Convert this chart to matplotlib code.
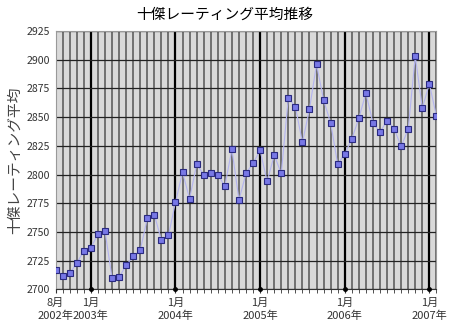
import matplotlib
matplotlib.use('Agg')
import matplotlib.pyplot as plt
import numpy as np

plt.rcParams['font.family'] = ['Noto Sans CJK JP', 'DejaVu Sans']

# 月次平均 (2002年8月 - 2007年2月)
start_year = 2002
start_month = 8
ratings = [
    2717, 2711.5, 2714, 2723, 2733.5, 2736.5, 2748, 2751, 2710, 2710.6,
    2721, 2729, 2734, 2762, 2765, 2743, 2747, 2776, 2802, 2779,
    2809, 2800, 2801, 2800, 2790, 2822, 2778, 2801, 2810, 2821,
    2794, 2817, 2801, 2867, 2859, 2828, 2857, 2896, 2865, 2845,
    2809, 2818, 2831, 2849, 2871, 2845, 2837, 2847, 2840, 2824.5,
    2839.5, 2903, 2858, 2879, 2851,
]
y_ticks = [2700, 2725, 2750, 2775, 2800, 2825, 2850, 2875, 2900, 2925]

title = '十傑レーティング平均推移'
y_label = '十傑レーティング平均'

n = len(ratings)
x = np.arange(n)
months = [(start_month - 1 + i) % 12 + 1 for i in range(n)]
years = [start_year + (start_month - 1 + i) // 12 for i in range(n)]
label_pos = [i for i in range(n) if i == 0 or months[i] == 1]
label_txt = [f'{months[i]}月\n{years[i]}年' for i in label_pos]
jan_pos = [i for i in range(n) if months[i] == 1]

fig = plt.figure(figsize=(4.5, 3.28), dpi=100)
ax = fig.add_axes([0.1236, 0.1174, 0.9698 - 0.1236, 0.9055 - 0.1174])
ax.set_facecolor('#d9d9d9')

ax.set_xlim(0, n - 1)
ax.set_ylim(y_ticks[0], y_ticks[-1])

# 月ごとの縦線、1月は太線
for i in x:
    if months[i] == 1:
        ax.axvline(i, color='black', lw=1.6, zorder=1)
    else:
        ax.axvline(i, color='#555555', lw=1.1, zorder=1)
for v in y_ticks:
    ax.axhline(v, color='#222222', lw=0.9, zorder=1)

ax.plot(x, ratings, color='#b4b4f0', lw=0.8, zorder=2)
ax.plot(x, ratings, ls='none', marker='s', ms=3.8, mfc='#7878e6',
        mec='#2a2a80', mew=0.8, zorder=3)

ax.plot(jan_pos, [y_ticks[0]] * len(jan_pos), ls='none', marker='o', ms=2.5,
        color='black', clip_on=False, zorder=4)

ax.set_yticks(y_ticks)
ax.set_yticklabels([str(v) for v in y_ticks], fontsize=7.6, color='#333333')
ax.set_xticks(label_pos)
ax.set_xticklabels(label_txt, fontsize=8, color='#333333', linespacing=1.3)
ax.set_xticks(x, minor=True)
ax.tick_params(axis='x', which='both', length=3, color='#333333', pad=3)
ax.tick_params(axis='y', length=0, pad=4)

for s in ax.spines.values():
    s.set_color('#999999')
    s.set_linewidth(0.8)
ax.spines['bottom'].set_color('#333333')

ax.set_ylabel(y_label, fontsize=10.6, color='#444444', labelpad=3)
fig.text(0.5, 0.954, title, fontsize=10.6, ha='center', va='center', color='black')

fig.savefig('out.png', dpi=100)
